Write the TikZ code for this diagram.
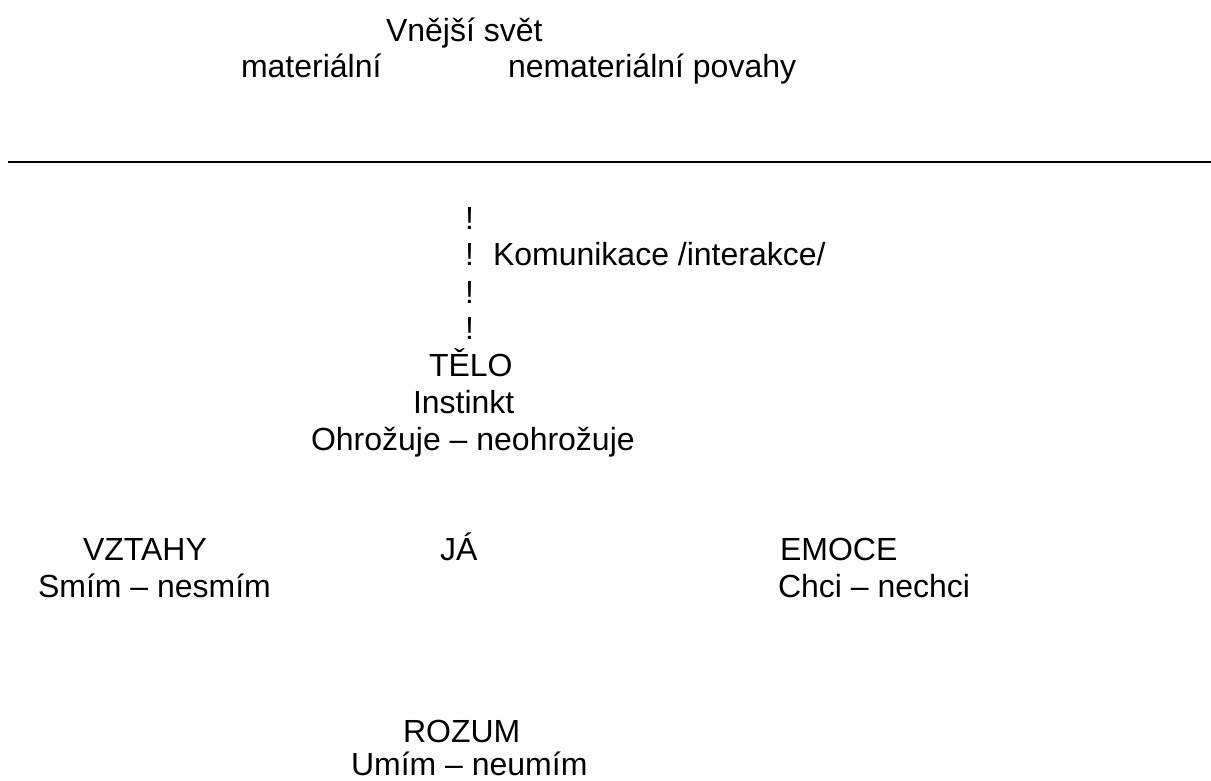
\documentclass[tikz,border=0pt]{standalone}
\usepackage{fontspec}
\setmainfont{Liberation Sans}
\usetikzlibrary{positioning}

\begin{document}
\begin{tikzpicture}[
  x=1pt, y=-1pt,
  every node/.style={font=\fontsize{32}{37}\selectfont},
  txt/.style={anchor=base west, inner sep=0pt, outer sep=0pt},
  divider/.style={line width=2.8pt},
]
\useasboundingbox (0,0) rectangle (1211,780);

% --- outer world
\node[txt] (svet) at (386,41) {Vnější svět};
\node[txt] (material) at (241,77) {materiální};
\node[txt] (nematerial) at (508,77) {nemateriální povahy};

% --- dividing line
\coordinate (divL) at (8,162);
\coordinate (divR) at (1211,162);
\draw[divider] (divL) -- (divR);

% --- communication column
\foreach \y [count=\i] in {229,265,303,339}
  \node[txt] (excl\i) at (465,\y) {!};
\node[txt] (komunikace) at (493,265) {Komunikace /interakce/};

% --- body
\node[txt] (telo) at (429,376) {TĚLO};
\node[txt] (instinkt) at (413,413) {Instinkt};
\node[txt] (ohrozuje) at (311,450) {Ohrožuje – neohrožuje};

% --- middle row
\node[txt] (vztahy) at (83,560) {VZTAHY};
\node[txt] (smim) at (38,597) {Smím – nesmím};
\node[txt] (ja) at (440,560) {JÁ};
\node[txt] (emoce) at (780,560) {EMOCE};
\node[txt] (chci) at (778,597) {Chci – nechci};

% --- reason
\node[txt] (rozum) at (403,742) {ROZUM};
\node[txt] (umim) at (351,775) {Umím – neumím};
\end{tikzpicture}
\end{document}
